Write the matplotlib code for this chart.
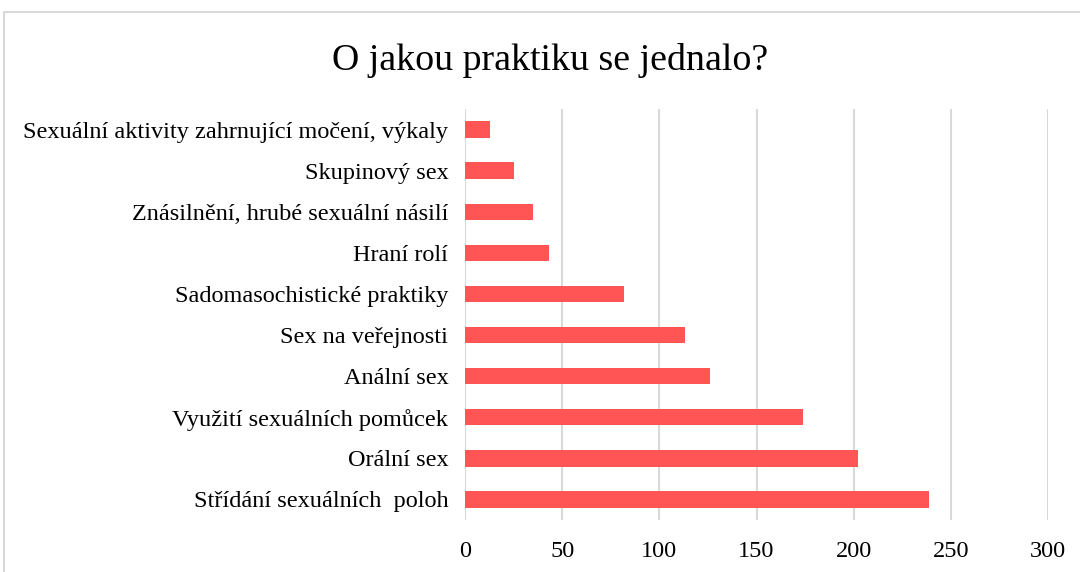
import matplotlib.pyplot as plt
from matplotlib.patches import Rectangle

categories = [
    'Sexuální aktivity zahrnující močení, výkaly',
    'Skupinový sex',
    'Znásilnění, hrubé sexuální násilí',
    'Hraní rolí',
    'Sadomasochistické praktiky',
    'Sex na veřejnosti',
    'Anální sex',
    'Využití sexuálních pomůcek',
    'Orální sex',
    'Střídání sexuálních  poloh',
]
values = [13, 25, 35, 43, 82, 113, 126, 174, 202, 239]
xticks = [0, 50, 100, 150, 200, 250, 300]

plt.rcParams['font.family'] = ['Liberation Serif', 'DejaVu Serif']

fig = plt.figure(figsize=(10.8, 5.72), dpi=100)
# outer chart border
fig.patches.append(Rectangle((4 / 1080, -0.1), 1.2, 1.1 - 12 / 572, transform=fig.transFigure,
                             fill=False, edgecolor='#d9d9d9', linewidth=1.5))

ax = fig.add_axes([465 / 1080, 1 - 520 / 572, (1048 - 465) / 1080, (520 - 109) / 572])

pos = list(range(len(categories)))[::-1]
ax.barh(pos, values, height=0.4, color='#ff5555', zorder=3)

ax.set_xlim(0, 300)
ax.set_ylim(-0.5, len(categories) - 0.5)
ax.set_xticks(xticks)
ax.set_yticks(pos)
ax.set_yticklabels(categories, fontsize=17.5)
ax.tick_params(axis='x', labelsize=17.5, length=0, pad=15)
ax.tick_params(axis='y', length=0, pad=12)
ax.grid(axis='x', color='#d9d9d9', linewidth=1.5, zorder=0)
for s in ax.spines.values():
    s.set_visible(False)

fig.text(550 / 1080, 1 - 60 / 572, 'O jakou praktiku se jednalo?', ha='center', va='center',
         fontsize=27.3)

fig.savefig('out.png', dpi=100, facecolor='white')
